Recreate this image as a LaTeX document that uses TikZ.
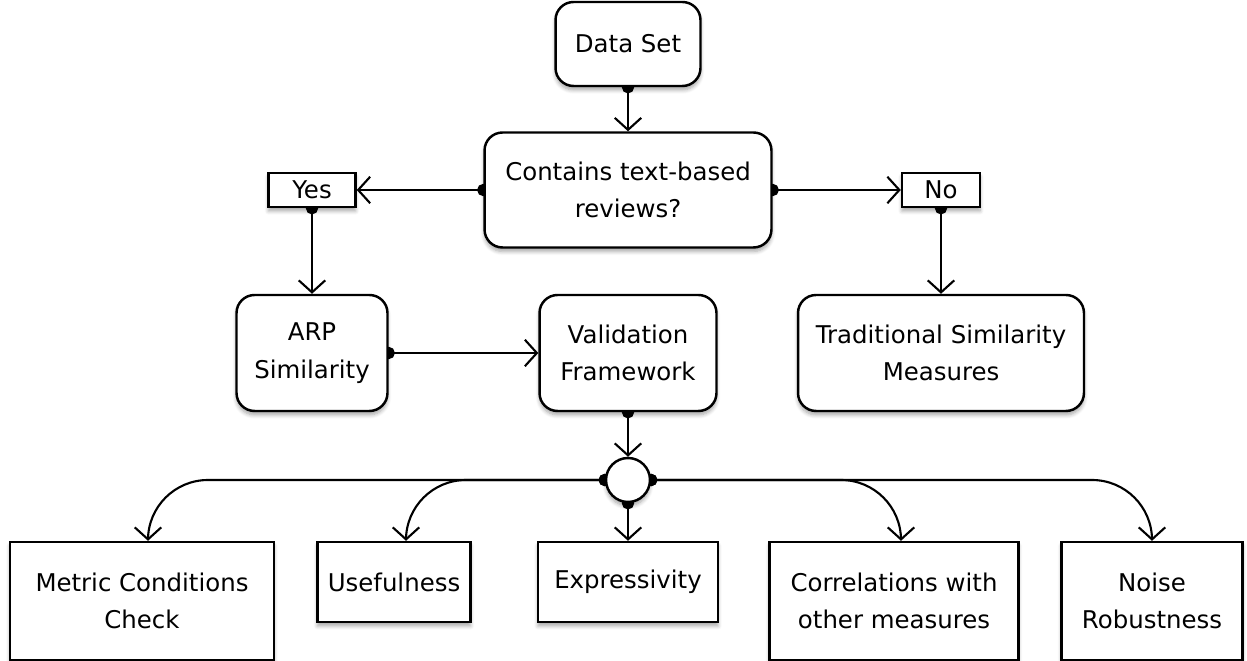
\documentclass[tikz,border=0pt]{standalone}
\usepackage{fontspec}
\setmainfont{DejaVu Sans}
\usepackage{tikz}
\usetikzlibrary{arrows.meta,backgrounds,shadows.blur}

\begin{document}
\begin{tikzpicture}[x=0.02cm,y=-0.02cm,
    font=\fontsize{13.9}{21.5}\selectfont,
    box/.style={draw, line width=1.4pt, fill=white, align=center, inner sep=0pt,
        blur shadow={shadow xshift=0pt, shadow yshift=-0.8mm, shadow opacity=35, shadow blur steps=6}},
    roundbox/.style={box, rounded corners=0.36cm},
    tagbox/.style={box, minimum height=0.68cm},
    conn/.style={line width=1.2pt, {Circle[length=7pt]}-{Straight Barb[length=2.4mm,width=5.3mm]}, shorten <=-3.5pt}
]

        \useasboundingbox (0,0) rectangle (1247,661);

        % upper part
        \node[roundbox, minimum width=2.9cm, minimum height=1.68cm] (data) at (628,44) {Data Set};
        \node[roundbox, minimum width=5.74cm, minimum height=2.3cm] (contains) at (628,190) {Contains text-based\\reviews?};
        \node[tagbox, minimum width=1.74cm] (yes) at (312,190) {Yes};
        \node[tagbox, minimum width=1.56cm] (no) at (941,190) {No};

        \node[roundbox, minimum width=3.02cm, minimum height=2.32cm] (arp) at (312,353) {ARP\\Similarity};
        \node[roundbox, minimum width=3.54cm, minimum height=2.32cm] (valid) at (628,353) {Validation\\Framework};
        \node[roundbox, minimum width=5.72cm, minimum height=2.32cm] (trad) at (941,353) {Traditional Similarity\\Measures};

        \node[box, circle, minimum size=0.88cm] (hub) at (628,480) {};

        % validation criteria
        \node[box, minimum width=5.28cm, minimum height=2.36cm] (metric) at (142,601) {Metric Conditions\\Check};
        \node[box, minimum width=3.06cm, minimum height=1.6cm] (useful) at (394,582) {Usefulness};
        \node[box, minimum width=3.6cm, minimum height=1.6cm] (express) at (628,582) {Expressivity};
        \node[box, minimum width=4.98cm, minimum height=2.36cm] (corr) at (894,601) {Correlations with\\other measures};
        \node[box, minimum width=3.62cm, minimum height=2.36cm] (noise) at (1152,601) {Noise\\Robustness};

        \begin{scope}[on background layer]
        \draw[conn] (data.south) -- (contains.north);
        \draw[conn] (contains.west) -- (yes.east);
        \draw[conn] (contains.east) -- (no.west);
        \draw[conn] (yes.south) -- (arp.north);
        \draw[conn] (no.south) -- (trad.north);
        \draw[conn] (arp.east) -- (valid.west);
        \draw[conn] (valid.south) -- (hub.north);
        \draw[conn] (hub.south) -- (express.north);

        \draw[conn, rounded corners=1.2cm] (hub.west) -| ([xshift=0.12cm]metric.north);
        \draw[conn, rounded corners=1.2cm] (hub.west) -| ([xshift=0.24cm]useful.north);
        \draw[conn, rounded corners=1.2cm] (hub.east) -| ([xshift=0.14cm]corr.north);
        \draw[conn, rounded corners=1.2cm] (hub.east) -| (noise.north);
        \end{scope}

    \end{tikzpicture}
\end{document}
